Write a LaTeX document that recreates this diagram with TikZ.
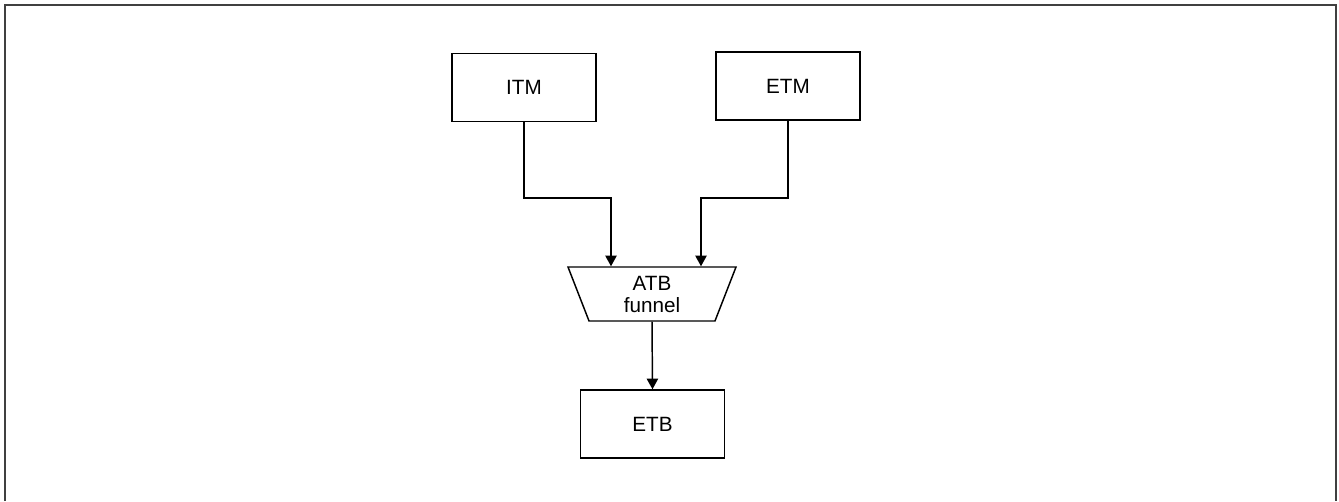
\documentclass[tikz,border=0pt]{standalone}
\usepackage{fontspec}
\setmainfont{Liberation Sans}
\usetikzlibrary{positioning,arrows.meta,shapes.geometric}

\tikzset{
  block/.style = {draw, line width=1.1pt, minimum width=108pt, minimum height=51pt, font=\fontsize{15.5}{17}\selectfont},
  funnelshape/.style = {draw, line width=1.1pt, trapezium, trapezium stretches body, shape border rotate=180,
    trapezium angle=60, minimum width=126pt, minimum height=40.5pt, inner sep=0pt, align=center,
    font=\fontsize{15.5}{16.5}\selectfont},
  arr/.style = {line width=1.1pt, -{Triangle[width=8.5pt,length=8pt]}},
  frame/.style = {line width=1.5pt, draw=black!75}
}

\begin{document}
\begin{tikzpicture}[x=0.75pt, y=-0.75pt]
\useasboundingbox (0,0) rectangle (1339,501);
\draw[frame] (4.5,501) -- (4.5,5) -- (1336,5) -- (1336,501);

\node[block] (itm) at (524, 87.5) {ITM};
\node[block] (etm) at (788, 86) {ETM};
\node[funnelshape] (funnel) at (652, 294) {ATB\\funnel};
\node[block] (etb) at (652.5, 424) {ETB};

\coordinate (bendA) at (611, 198);
\coordinate (bendB) at (701, 198);

\draw[arr] (itm.south) |- (bendA) -- (bendA |- funnel.north);
\draw[arr] (etm.south) |- (bendB) -- (bendB |- funnel.north);
\draw[arr] (funnel.south) -- (etb.north);

\end{tikzpicture}
\end{document}
